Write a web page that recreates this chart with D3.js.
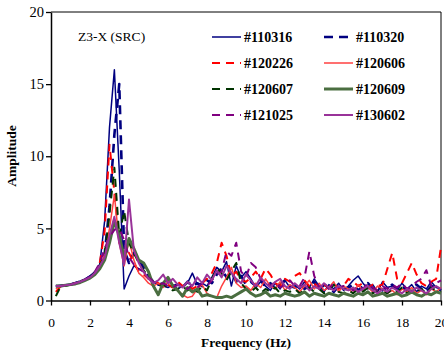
<!DOCTYPE html>
<html>
<head>
<meta charset="utf-8">
<script src="https://cdn.jsdelivr.net/npm/d3@7"></script>
<style>
  body { margin: 0; background: #fff; }
  svg { display: block; font-family: "Liberation Serif", "Times New Roman", serif; }
</style>
</head>
<body>
<div id="chart"></div>
<script>
const freq = [0.25, 0.5, 0.75, 1, 1.25, 1.5, 1.75, 2, 2.25, 2.5,
  2.75, 3, 3.25, 3.5, 3.75, 4, 4.25, 4.5, 4.75, 5,
  5.25, 5.5, 5.75, 6, 6.25, 6.5, 6.75, 7, 7.25, 7.5,
  7.75, 8, 8.25, 8.5, 8.75, 9, 9.25, 9.5, 9.75, 10,
  10.25, 10.5, 10.75, 11, 11.25, 11.5, 11.75, 12, 12.25, 12.5,
  12.75, 13, 13.25, 13.5, 13.75, 14, 14.25, 14.5, 14.75, 15,
  15.25, 15.5, 15.75, 16, 16.25, 16.5, 16.75, 17, 17.25, 17.5,
  17.75, 18, 18.25, 18.5, 18.75, 19, 19.25, 19.5, 19.75, 20];

const s110316 = [1.0, 1.05, 1.1, 1.15, 1.25, 1.35, 1.5, 1.7, 2.0, 2.5,
  5.5, 12.0, 16.0, 9.0, 0.8, 1.7, 2.4, 2.2, 2.0, 1.5,
  1.3, 1.1, 1.0, 0.9, 1.1, 0.8, 1.0, 1.2, 1.9, 1.1,
  1.2, 1.0, 1.6, 2.3, 2.0, 2.7, 1.0, 2.4, 1.6, 2.0,
  1.5, 0.9, 1.3, 1.0, 0.7, 1.2, 0.8, 1.4, 0.9, 1.1,
  0.8, 1.3, 0.9, 1.5, 1.0, 0.6, 1.1, 0.8, 1.2, 0.7,
  1.0, 1.4, 1.7, 1.2, 0.8, 1.1, 0.6, 1.3, 0.9, 1.0,
  0.7, 1.2, 0.8, 1.1, 0.6, 1.0, 0.8, 1.3, 0.9, 0.8];
const s110320 = [1.0, 1.0, 1.05, 1.1, 1.2, 1.3, 1.45, 1.65, 1.95, 2.4,
  3.2, 6.5, 11.5, 15.0, 3.5, 2.6, 3.3, 2.8, 2.3, 1.7,
  1.3, 1.1, 1.2, 0.9, 1.0, 1.1, 0.9, 1.3, 1.0, 1.2,
  1.0, 1.4, 1.2, 1.8, 2.2, 1.6, 2.0, 1.3, 1.7, 1.1,
  1.3, 1.0, 1.5, 0.9, 1.2, 0.8, 1.1, 1.4, 1.0, 0.9,
  1.2, 0.8, 1.0, 1.3, 0.7, 1.1, 0.9, 0.6, 1.0, 0.8,
  0.9, 1.1, 0.7, 1.0, 1.2, 0.8, 1.0, 0.7, 0.9, 1.1,
  0.8, 1.0, 0.7, 0.9, 1.1, 0.8, 0.6, 1.0, 0.9, 0.7];
const s120226 = [0.6, 1.0, 1.05, 1.1, 1.2, 1.3, 1.45, 1.6, 1.9, 2.6,
  4.8, 10.8, 7.5, 4.0, 3.0, 3.3, 2.6, 2.0, 1.8, 1.5,
  1.4, 1.2, 1.0, 1.1, 0.9, 1.3, 1.0, 1.1, 0.8, 1.0,
  1.2, 1.5, 1.9, 2.6, 4.0, 3.1, 1.7, 2.0, 1.4, 1.3,
  1.6, 2.0, 1.5, 2.2, 1.8, 1.2, 1.0, 1.5, 1.3, 1.7,
  1.9, 1.4, 1.0, 1.2, 0.8, 1.1, 0.9, 1.2, 0.8, 1.0,
  1.5, 1.3, 1.0, 1.2, 0.9, 1.1, 1.0, 1.1, 2.2, 3.3,
  1.5, 1.2, 1.9, 2.6, 1.8, 1.2, 1.0, 1.3, 1.5, 3.7];
const s120606 = [0.8, 1.0, 1.05, 1.1, 1.2, 1.3, 1.4, 1.55, 1.8, 2.3,
  3.2, 5.0, 7.3, 4.0, 2.4, 4.2, 2.8, 1.9, 1.6, 1.2,
  1.0, 1.2, 0.9, 1.3, 1.1, 0.7, 0.4, 0.2, 0.3, 0.8,
  1.1, 0.5, 0.3, 0.2, 1.0, 1.6, 2.3, 1.2, 0.9, 1.0,
  0.7, 1.2, 0.9, 1.5, 1.0, 0.8, 1.3, 0.7, 1.1, 0.9,
  0.6, 1.0, 1.4, 0.8, 1.2, 0.7, 0.9, 1.3, 0.6, 1.0,
  0.8, 0.5, 1.1, 0.7, 0.9, 0.6, 1.0, 0.8, 0.5, 0.7,
  0.4, 0.8, 0.6, 0.9, 0.5, 0.7, 0.4, 0.8, 0.6, 0.9];
const s120607 = [0.3, 1.0, 1.0, 1.1, 1.2, 1.3, 1.45, 1.6, 1.9, 2.4,
  3.2, 6.0, 9.2, 4.5, 6.2, 4.0, 3.3, 2.6, 2.1, 1.6,
  1.3, 1.0, 1.1, 0.9, 0.7, 0.8, 1.0, 0.7, 0.9, 0.6,
  1.0, 0.7, 1.5, 2.2, 1.9, 1.4, 2.0, 2.6, 1.2, 0.8,
  0.6, 0.9, 0.5, 0.8, 0.6, 0.9, 0.5, 0.7, 0.6, 0.8,
  0.5, 0.7, 0.9, 0.6, 0.8, 0.5, 0.7, 1.1, 0.6, 0.5,
  0.7, 0.5, 0.8, 0.6, 0.9, 0.5, 0.7, 0.6, 0.5, 0.8,
  0.6, 0.9, 0.5, 0.7, 0.6, 0.8, 0.5, 0.9, 0.7, 0.6];
const s120609 = [1.0, 1.0, 1.05, 1.1, 1.15, 1.25, 1.4, 1.55, 1.8, 2.2,
  2.8, 4.0, 5.5, 4.5, 3.0, 4.3, 3.6, 2.8, 2.6, 2.0,
  1.0, 0.4, 1.2, 1.6, 1.0, 0.7, 0.3, 0.9, 0.6, 0.8,
  0.3, 0.4, 0.3, 0.2, 0.2, 0.3, 0.2, 0.4, 0.6, 0.8,
  0.5, 0.3, 0.4, 0.6, 0.3, 0.4, 0.3, 0.5, 0.4, 0.3,
  0.4, 0.6, 0.3, 0.5, 0.4, 0.3, 0.5, 0.4, 0.3, 0.5,
  0.4, 0.3, 0.5, 0.4, 0.6, 0.3, 0.4, 0.5, 0.3, 0.4,
  0.5, 0.3, 0.4, 0.6, 0.4, 0.3, 0.5, 0.4, 0.6, 0.5];
const s121025 = [1.0, 1.0, 1.05, 1.1, 1.2, 1.3, 1.45, 1.65, 2.0, 2.6,
  3.6, 4.4, 4.9, 5.0, 4.2, 3.0, 2.5, 2.2, 2.0, 1.6,
  1.3, 1.1, 1.2, 1.0, 0.9, 1.1, 1.0, 0.8, 1.1, 0.9,
  1.2, 1.0, 1.4, 1.8, 2.0, 3.4, 3.1, 4.0, 2.0, 1.6,
  2.6, 2.3, 1.5, 1.2, 1.0, 1.3, 0.9, 1.1, 1.4, 1.0,
  1.0, 1.6, 3.4, 1.7, 0.9, 1.1, 0.8, 1.2, 0.9, 1.0,
  0.9, 0.7, 1.0, 0.8, 1.2, 0.9, 0.7, 1.0, 0.8, 1.1,
  0.9, 1.2, 0.8, 1.0, 1.3, 1.5, 2.1, 1.0, 1.2, 1.4];
const s130602 = [1.0, 1.0, 1.05, 1.1, 1.2, 1.3, 1.45, 1.6, 1.9, 2.4,
  3.0, 4.5, 5.8, 4.0, 2.5, 7.0, 3.5, 2.6, 2.0, 1.5,
  1.2, 1.4, 1.8, 1.2, 1.5, 1.1, 0.9, 1.3, 1.0, 1.6,
  1.2, 1.8, 1.4, 2.1, 1.6, 2.4, 1.9, 1.5, 1.2, 1.8,
  1.4, 1.0, 1.6, 1.2, 0.9, 1.3, 1.5, 1.0, 0.8, 1.2,
  0.9, 1.1, 0.7, 1.0, 0.8, 1.2, 0.9, 0.7, 1.0, 0.8,
  0.7, 0.9, 0.6, 0.8, 1.0, 0.7, 0.5, 0.8, 0.6, 0.9,
  0.7, 0.5, 0.8, 0.6, 0.9, 0.7, 0.5, 0.8, 1.0, 0.8];

const seriesNames = ["#110316", "#110320", "#120226", "#120606", "#120607", "#120609", "#121025", "#130602"];
const seriesValues = [s110316, s110320, s120226, s120606, s120607, s120609, s121025, s130602];
const xTicks = [0, 2, 4, 6, 8, 10, 12, 14, 16, 18, 20];
const yTicks = [0, 5, 10, 15, 20];

const styles = [
  { color: "#000080", width: 1.5, dash: null },
  { color: "#000080", width: 2.6, dash: "9,6" },
  { color: "#ff0000", width: 2, dash: "8,6" },
  { color: "#ff4040", width: 1.5, dash: null },
  { color: "#003300", width: 2, dash: "8,6" },
  { color: "#4a6e40", width: 3, dash: null },
  { color: "#800080", width: 2, dash: "8,6" },
  { color: "#993399", width: 2, dash: null }
];

const W = 444, H = 353;
const margin = { top: 12, right: 3, bottom: 52.5, left: 51 };
const width = W - margin.left - margin.right;
const height = H - margin.top - margin.bottom;

const svg = d3.select("#chart").append("svg")
  .attr("width", W)
  .attr("height", H);

const g = svg.append("g")
  .attr("transform", `translate(${margin.left},${margin.top})`);

const x = d3.scaleLinear().domain([0, 20]).range([0, width]);
const y = d3.scaleLinear().domain([0, 20]).range([height, 0]);

// frame
g.append("path")
  .attr("d", `M0,0H${width}V${height}`)
  .attr("fill", "none")
  .attr("stroke", "#000")
  .attr("stroke-width", 1);

const line = d3.line()
  .x((d, i) => x(freq[i]))
  .y(d => y(d));

seriesValues.forEach((vals, k) => {
  g.append("path")
    .datum(vals)
    .attr("fill", "none")
    .attr("stroke", styles[k].color)
    .attr("stroke-width", styles[k].width)
    .attr("stroke-dasharray", styles[k].dash)
    .attr("stroke-linejoin", "round")
    .attr("d", line);
});

const xAxis = g.append("g")
  .attr("transform", `translate(0,${height})`)
  .call(d3.axisBottom(x).tickValues(xTicks).tickSize(5).tickPadding(12).tickSizeOuter(0));
xAxis.selectAll("text").style("font-size", "13.5px").attr("fill", "#000");

const yAxis = g.append("g")
  .call(d3.axisLeft(y).tickValues(yTicks).tickSize(5).tickPadding(2).tickSizeOuter(0));
yAxis.selectAll("text").style("font-size", "14.5px").attr("fill", "#000");

[xAxis, yAxis].forEach(a => {
  a.select(".domain").attr("stroke", "#000").attr("stroke-width", 1.5);
  a.selectAll(".tick line").attr("stroke", "#000").attr("stroke-width", 1.3);
  a.selectAll("text").style("font-family", "'Liberation Serif', serif");
});

svg.append("text")
  .attr("x", 246)
  .attr("y", 347)
  .attr("text-anchor", "middle")
  .style("font-size", "13.5px")
  .style("font-weight", "bold")
  .text("Frequency (Hz)");

svg.append("text")
  .attr("transform", "translate(16,156) rotate(-90)")
  .attr("text-anchor", "middle")
  .style("font-size", "13.5px")
  .style("font-weight", "bold")
  .text("Amplitude");

svg.append("text")
  .attr("x", 78)
  .attr("y", 41)
  .style("font-size", "13.5px")
  .text("Z3-X (SRC)");

// legend, two columns
const legend = svg.append("g");
seriesNames.forEach((name, k) => {
  const col = k % 2, row = Math.floor(k / 2);
  const lx = col === 0 ? 212 : 324;
  const ly = 37 + row * 26;
  legend.append("line")
    .attr("x1", lx).attr("x2", lx + 29)
    .attr("y1", ly).attr("y2", ly)
    .attr("stroke", styles[k].color)
    .attr("stroke-width", styles[k].width)
    .attr("stroke-dasharray", styles[k].dash);
  legend.append("text")
    .attr("x", lx + 32)
    .attr("y", ly + 5)
    .style("font-size", "14px")
    .style("font-weight", "bold")
    .text(name);
});
</script>
</body>
</html>
